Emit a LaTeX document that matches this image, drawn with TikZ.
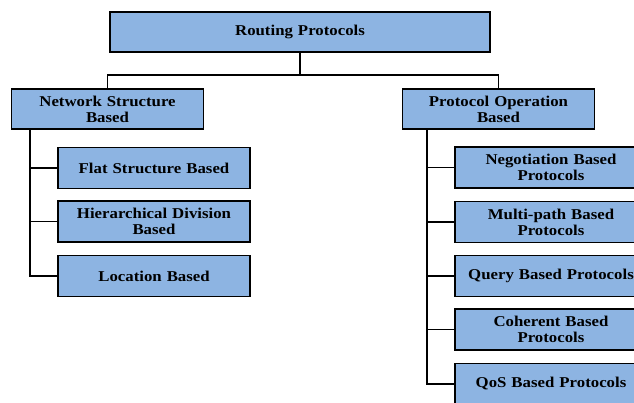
\documentclass[tikz,border=0pt]{standalone}
\usepackage{fontspec}
\newfontfamily\boxfont[FakeStretch=1.12]{Liberation Serif}
\definecolor{boxblue}{HTML}{8DB4E2}
\tikzset{
  box/.style={draw=black,line width=1.6pt,fill=boxblue,align=center,inner sep=0pt,
    text width=#1-8pt,minimum width=#1,minimum height=41pt,
    font=\boxfont\bfseries\fontsize{15}{16}\selectfont},
  box/.default=192pt,
  link/.style={draw=black,line width=1.4pt}
}

\begin{document}
\begin{tikzpicture}[x=1pt,y=-1pt]
    \useasboundingbox (0,0) rectangle (634,402);
    \clip (0,0) rectangle (634,402);
    \node[box=380pt,minimum height=40pt] (root) at (300,32) {Routing Protocols};
    \node[box,minimum height=40pt] (nsb) at (107.5,109) {Network Structure\\Based};
    \node[box,minimum height=40pt] (pob) at (498.5,109) {Protocol Operation\\Based};
    % left branch
    \node[box] (flat) at (154,168) {Flat Structure Based};
    \node[box] (hier) at (154,221.5) {Hierarchical Division\\Based};
    \node[box] (loc) at (154,276) {Location Based};
    % right branch
    \node[box] (nego) at (551,167.5) {Negotiation Based\\Protocols};
    \node[box] (multi) at (551,222) {Multi-path Based\\Protocols};
    \node[box] (query) at (551,276) {Query Based Protocols};
    \node[box] (coh) at (551,329.5) {Coherent Based\\Protocols};
    \node[box] (qos) at (551,384) {QoS Based Protocols};

    \coordinate (split) at (300,75);
    \coordinate (lspine) at (30,129);
    \coordinate (rspine) at (427,129);
    \draw [link] (root) -- (split);
    \draw [link] (nsb.north) |- (split) -| (pob.north);
    \draw [link] (lspine) |- (loc.west);
    \foreach \n in {flat,hier}
        \draw [link] (lspine |- \n.west) -- (\n.west);
    \draw [link] (rspine) |- (qos.west);
    \foreach \n in {nego,multi,query,coh}
        \draw [link] (rspine |- \n.west) -- (\n.west);
\end{tikzpicture}
\end{document}
